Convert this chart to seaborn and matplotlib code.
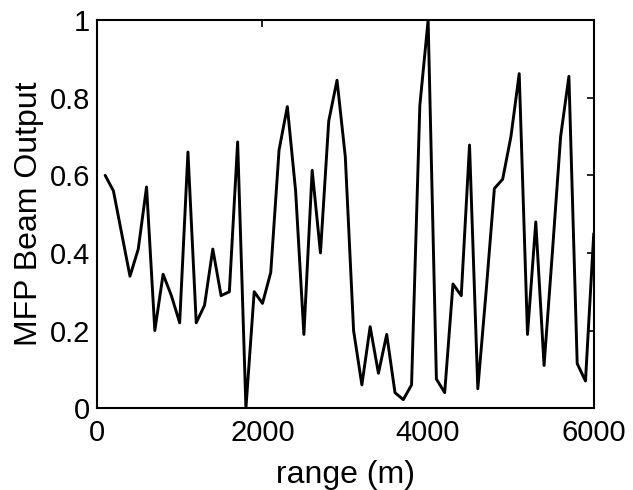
import matplotlib
matplotlib.use("Agg")
import matplotlib.pyplot as plt
import seaborn as sns
import pandas as pd

range_m = [100, 200, 300, 400, 500, 600, 700, 800, 900, 1000,
           1100, 1200, 1300, 1400, 1500, 1600, 1700, 1800, 1900, 2000,
           2100, 2200, 2300, 2400, 2500, 2600, 2700, 2800, 2900, 3000,
           3100, 3200, 3300, 3400, 3500, 3600, 3700, 3800, 3900, 4000,
           4100, 4200, 4300, 4400, 4500, 4600, 4700, 4800, 4900, 5000,
           5100, 5200, 5300, 5400, 5500, 5600, 5700, 5800, 5900, 6000]
beam_output = [0.60, 0.56, 0.45, 0.34, 0.41, 0.57, 0.20, 0.345, 0.29, 0.22,
               0.66, 0.22, 0.265, 0.41, 0.29, 0.30, 0.686, 0.0, 0.30, 0.27,
               0.35, 0.665, 0.777, 0.56, 0.19, 0.613, 0.40, 0.74, 0.845, 0.648,
               0.20, 0.06, 0.21, 0.09, 0.19, 0.04, 0.022, 0.06, 0.78, 1.0,
               0.075, 0.04, 0.32, 0.29, 0.678, 0.05, 0.30, 0.566, 0.59, 0.70,
               0.862, 0.19, 0.48, 0.11, 0.40, 0.70, 0.855, 0.115, 0.07, 0.45]

x_ticks = [0, 2000, 4000, 6000]
y_ticks = [0, 0.2, 0.4, 0.6, 0.8, 1]
y_tick_labels = ["0", "0.2", "0.4", "0.6", "0.8", "1"]

df = pd.DataFrame({"range": range_m, "beam": beam_output})

sns.set_style("white")
plt.rcParams["font.family"] = ["Liberation Sans", "DejaVu Sans"]
plt.rcParams["text.color"] = "black"
plt.rcParams["axes.labelcolor"] = "black"

fig = plt.figure(figsize=(6.33, 4.9), dpi=100)
ax = fig.add_axes([0.153, 0.167, 0.785, 0.792])
sns.lineplot(data=df, x="range", y="beam", ax=ax, color="black", linewidth=2.1)

ax.set_xlim(0, 6000)
ax.set_ylim(0, 1)
ax.set_xticks(x_ticks)
ax.set_xticklabels([str(t) for t in x_ticks])
ax.set_yticks(y_ticks)
ax.set_yticklabels(y_tick_labels)
ax.tick_params(direction="in", length=5, width=1.2, top=True, right=True,
               labelsize=21, colors="black")
ax.tick_params(axis="y", pad=5)
ax.tick_params(axis="x", pad=8)
for s in ax.spines.values():
    s.set_color("black")
    s.set_linewidth(1.5)
ax.set_xlabel("range (m)", fontsize=23, labelpad=9, color="black")
ax.set_ylabel("MFP Beam Output", fontsize=23, labelpad=4, color="black")

fig.savefig("out.png", dpi=100)
